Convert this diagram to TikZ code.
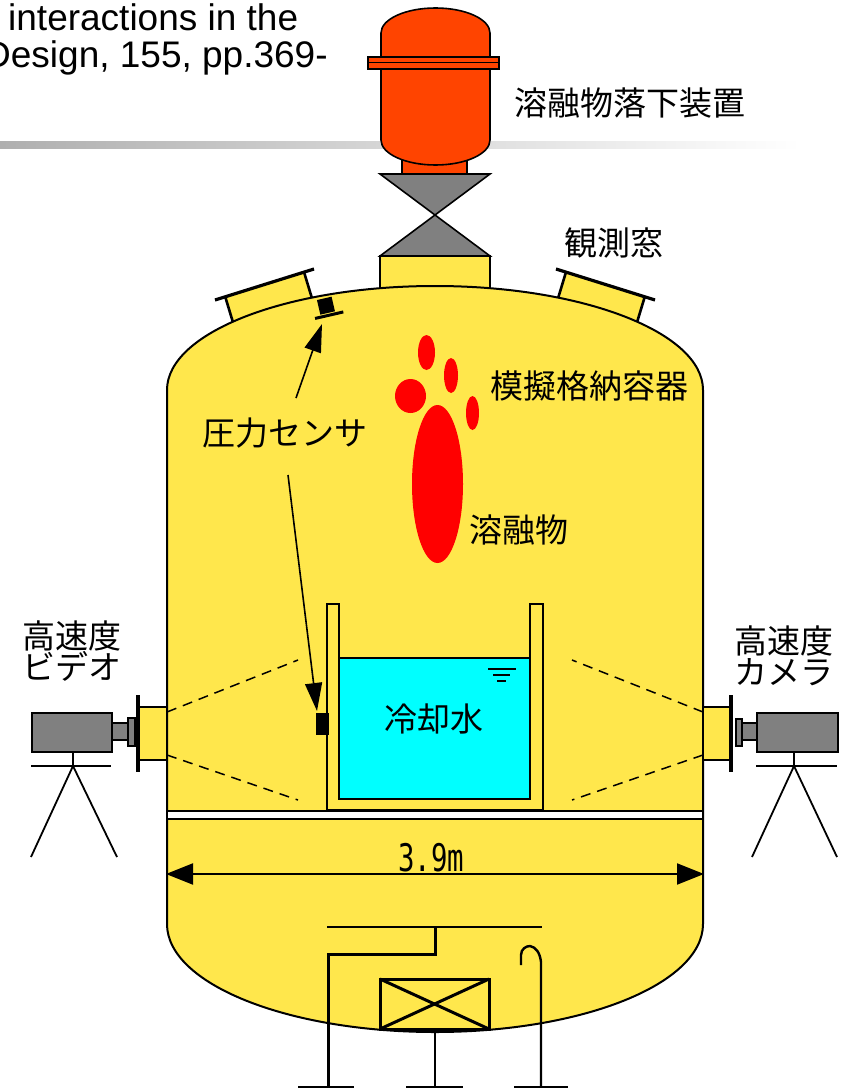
\documentclass[tikz,border=0pt]{standalone}
\usepackage{fontspec}
\usepackage{graphicx}
\usetikzlibrary{arrows.meta}
\newfontfamily\jp{Noto Sans CJK JP}
\newfontfamily\en{Liberation Sans}
\newfontfamily\dimfont{DejaVu Sans Mono}
\definecolor{vesselyellow}{RGB}{255,231,76}
\definecolor{tankorange}{RGB}{255,68,0}
\definecolor{valvegray}{RGB}{128,128,128}
\definecolor{watercyan}{RGB}{0,255,255}
\definecolor{meltred}{RGB}{255,0,0}
\definecolor{rulegray}{RGB}{175,175,175}
\newcommand\jplabelfont{\jp\fontsize{33}{31}\selectfont\lineskiplimit=-50pt\relax}

\begin{document}
\begin{tikzpicture}[x=1pt,y=-1pt,
  vessel/.style={fill=vesselyellow, draw=black, line width=2pt},
  tankpart/.style={fill=tankorange, draw=black, line width=1.6pt},
  valvepart/.style={fill=valvegray, draw=black, line width=1.6pt},
  portside/.style={line width=2.6pt},
  flangeline/.style={line width=3.2pt},
  poolwall/.style={fill=vesselyellow, draw=black, line width=2.4pt},
  melt/.style={fill=meltred},
  sensorarrow/.style={line width=1.6pt, -{Triangle[length=28pt,width=17pt]}},
  dimarrow/.style={line width=2pt, {Triangle[length=27pt,width=21pt]}-{Triangle[length=27pt,width=21pt]}},
  cone/.style={dash pattern=on 10pt off 7pt, line width=1.5pt},
  camgray/.style={fill=valvegray, draw=black, line width=1.5pt},
  tripod/.style={line width=1.8pt},
  pipe/.style={line width=3pt},
  thinpipe/.style={line width=2pt},
  jplabel/.style={font=\jplabelfont, inner sep=0pt, text=black},
  reftext/.style={font=\en\fontsize{37}{40}\selectfont, inner sep=0pt, anchor=base west},
  dimtext/.style={font=\dimfont\fontsize{38}{40}\selectfont, inner sep=0pt}
]
\useasboundingbox (0,0) rectangle (843,1089);
\clip (0,0) rectangle (843,1089);

% header rule and citation fragment
\shade[left color=rulegray, right color=white] (0,141.5) rectangle (800,148.5);
\node[reftext] (citeA) at (8,31) {interactions in the};
\node[reftext] (citeB) at (-16,68) {Design, 155, pp.369-};

% melt release tank
\draw[tankpart] (402,156) rectangle (467,174);
\draw[tankpart] (381,140) -- (381,33)
  arc[start angle=180, end angle=360, x radius=54.5, y radius=25]
  -- (490,140)
  arc[start angle=0, end angle=180, x radius=54.5, y radius=25] -- cycle;
\draw[tankpart] (368,57) rectangle (499,69);
\draw[line width=1.2pt] (368,62.5) -- (499,62.5);

% valve
\draw[valvepart] (380,174) -- (490,174) -- (435,215) -- cycle;
\draw[valvepart] (435,215) -- (490,256) -- (380,256) -- cycle;

% inlet nozzle
\draw[vessel] (380,256) rectangle (490,300);

% observation windows on the upper head
\fill[vesselyellow] (225,296) -- (304,272) -- (315.6,310.3) -- (236.6,334.3) -- cycle;
\draw[portside] (225,296) -- (236.6,334.3);
\draw[portside] (304,272) -- (315.6,310.3);
\draw[flangeline] (215,300) -- (314,269);
\fill[vesselyellow] (645,296) -- (566,272) -- (554.4,310.3) -- (633.4,334.3) -- cycle;
\draw[portside] (645,296) -- (633.4,334.3);
\draw[portside] (566,272) -- (554.4,310.3);
\draw[flangeline] (655,300) -- (556,269);

% containment vessel
\draw[vessel] (167,390) -- (167,924)
  arc[start angle=180, end angle=0, x radius=268, y radius=108]
  -- (703,390)
  arc[start angle=0, end angle=-180, x radius=268, y radius=104] -- cycle;

% floor
\draw[fill=white, line width=1.8pt] (167,811) rectangle (703,819);

% water pool
\draw[poolwall] (327,604) -- (327,810) -- (543,810) -- (543,604) -- (530,604)
  -- (530,799) -- (339,799) -- (339,604) -- cycle;
\draw[fill=watercyan, line width=1.6pt] (339,658) rectangle (530,799);
\draw[line width=1.5pt] (488,669) -- (516,669);
\draw[line width=1.5pt] (493,675) -- (510,675);
\draw[line width=1.5pt] (497,681) -- (506,681);

% falling melt
\fill[melt] (426.5,352.5) ellipse[x radius=8.5, y radius=17.5];
\fill[melt] (451,375.5) ellipse[x radius=7, y radius=17.5];
\fill[melt] (410.5,396) ellipse[x radius=15.5, y radius=17];
\fill[melt] (472.5,413) ellipse[x radius=6.5, y radius=17];
\fill[melt] (437.5,484) ellipse[x radius=25.5, y radius=79];

% pressure sensors
\begin{scope}[shift={(327,308)}, rotate=13]
  \fill (-8,-10) rectangle (7,5);
  \fill (-14,6) rectangle (15,9);
\end{scope}
\fill (316,713) rectangle (329,735);
\coordinate (headFrom) at (296,398);
\coordinate (headTo) at (322,324);
\coordinate (wallFrom) at (288,475);
\coordinate (wallTo) at (317,711);
\draw[sensorarrow] (headFrom) -- (headTo);
\draw[sensorarrow] (wallFrom) -- (wallTo);

% camera view cones
\draw[cone] (167,712) -- (298,660);
\draw[cone] (167,755) -- (298,800);
\draw[cone] (703,712) -- (572,660);
\draw[cone] (703,755) -- (572,800);

% left camera (video)
\draw[vessel] (138,707) rectangle (167,760);
\draw[flangeline] (138,695) -- (138,772);
\draw[camgray] (128,718) rectangle (135,746);
\draw[camgray] (112,723) rectangle (128,740);
\draw[camgray] (32,713) rectangle (112,752);
\draw[tripod] (73,752) -- (73,766);
\draw[tripod] (31,766) -- (111,766);
\draw[tripod] (31,857) -- (73,766) -- (117,857);

% right camera
\draw[vessel] (703,707) rectangle (731,760);
\draw[flangeline] (731,695) -- (731,772);
\draw[camgray] (736,719) rectangle (742,746);
\draw[camgray] (742,723) rectangle (757,740);
\draw[camgray] (757,713) rectangle (838,752);
\draw[tripod] (794,752) -- (794,766);
\draw[tripod] (756,766) -- (837,766);
\draw[tripod] (752,857) -- (794,766) -- (837,857);

% vessel diameter
\coordinate (dimL) at (166,874);
\coordinate (dimR) at (704,874);
\draw[dimarrow] (dimL) -- (dimR);
\node[dimtext] (dimlabel) at (431,858) {\scalebox{0.72}[1]{3.9m}};

% lower internals and supports
\draw[thinpipe] (327,927) -- (542,927);
\draw[pipe] (435,927) -- (435,954) -- (328,954) -- (328,1087);
\draw[pipe] (380,979) rectangle (489,1029);
\draw[pipe] (380,979) -- (489,1029);
\draw[pipe] (380,1029) -- (489,979);
\draw[thinpipe] (435,1032) -- (435,1087);
\draw[line width=2.4pt] (521,965) -- (521,955) .. controls (521,949) and (526,946) .. (530,946)
  .. controls (536,947) and (540,953) .. (541,962) -- (541,1087);
\draw[thinpipe] (298,1087) -- (354,1087);
\draw[thinpipe] (406,1087) -- (463,1087);
\draw[thinpipe] (514,1087) -- (568,1087);

% labels
\node[jplabel] (dropper) at (630,103) {溶融物落下装置};
\node[jplabel] (window) at (614,243) {観測窓};
\node[jplabel] (containment) at (589,386) {模擬格納容器};
\node[jplabel] (psensor) at (285,433) {圧力センサ};
\node[jplabel] (meltlbl) at (519,530) {溶融物};
\node[jplabel] (waterlbl) at (434,719) {冷却水};
\node[jplabel, align=center] (videolbl) at (72,651) {高速度\\ビデオ};
\node[jplabel, align=center] (cameralbl) at (784,656) {高速度\\カメラ};
\end{tikzpicture}
\end{document}
